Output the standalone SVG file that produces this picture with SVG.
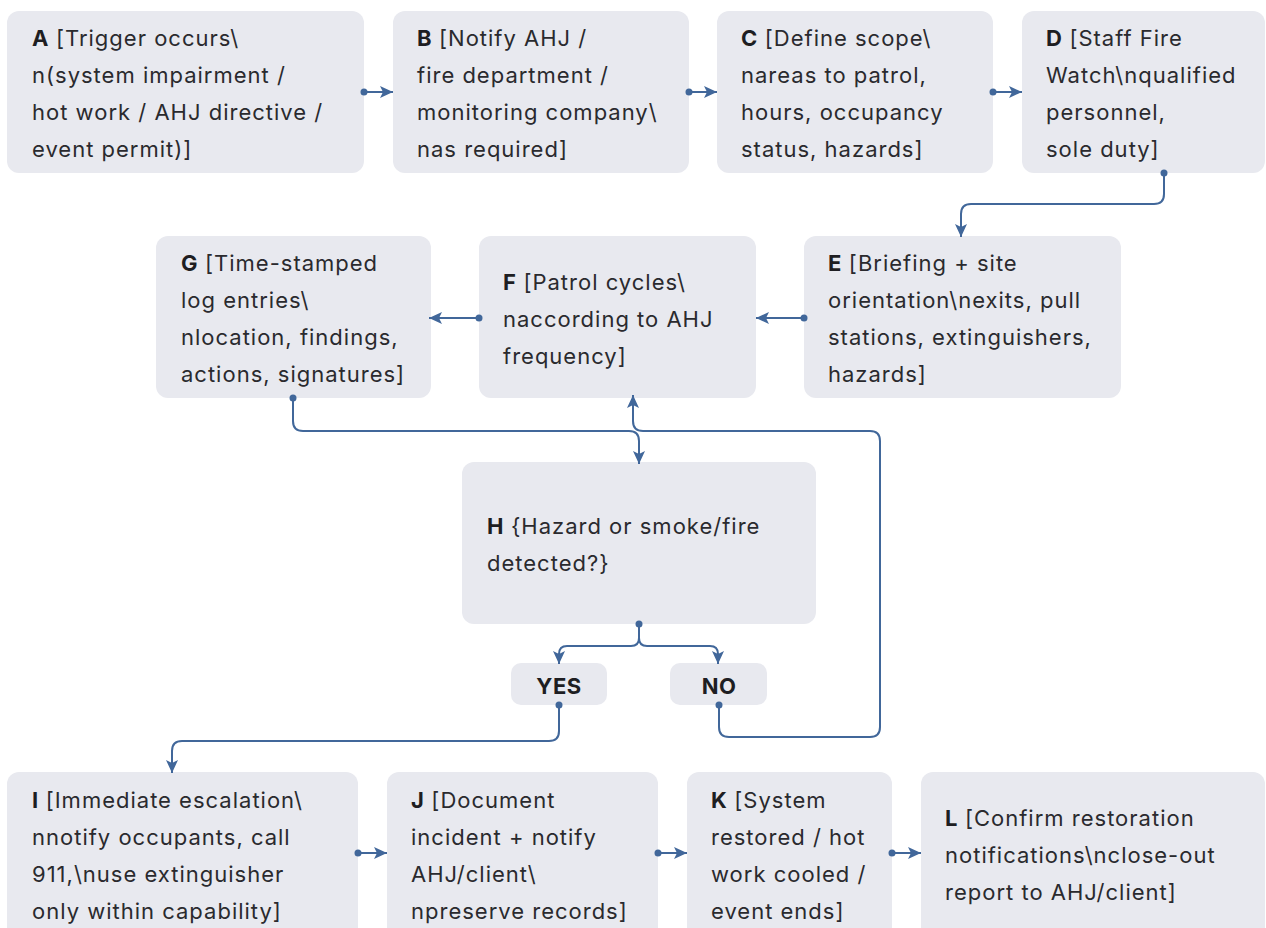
<svg xmlns="http://www.w3.org/2000/svg" width="1266" height="928" viewBox="0 0 1266 928">
<style>
.box{fill:#e8e9ef}
.t{font-family:Inter,Roboto,"Liberation Sans",sans-serif;font-size:22px;fill:#2a2a2e;letter-spacing:1px}
.b{font-weight:bold;fill:#1e1e22;letter-spacing:0.3px}
.lbl{font-family:Inter,Roboto,"Liberation Sans",sans-serif;font-size:22px;font-weight:bold;fill:#1e1e22;text-anchor:middle;letter-spacing:0.5px}
.c{fill:none;stroke:#41679a;stroke-width:2}
.dot{fill:#41679a}
</style>
<defs>
<marker id="ah" markerUnits="userSpaceOnUse" markerWidth="14" markerHeight="12" refX="13" refY="6" orient="auto">
<path d="M0,0 L13,6 L0,12 L3,6 Z" fill="#41679a"/>
</marker>
</defs>
<rect width="1266" height="928" fill="#ffffff"/>
<g id="nodes">
<g id="A"><rect class="box" x="7" y="11" width="357" height="162" rx="12"/>
<text class="t" x="32" y="46"><tspan class="b">A</tspan> [Trigger occurs\</text>
<text class="t" x="32" y="83">n(system impairment /</text>
<text class="t" x="32" y="120">hot work / AHJ directive /</text>
<text class="t" x="32" y="157">event permit)]</text></g>
<g id="B"><rect class="box" x="393" y="11" width="296" height="162" rx="12"/>
<text class="t" x="417" y="46"><tspan class="b">B</tspan> [Notify AHJ /</text>
<text class="t" x="417" y="83">fire department /</text>
<text class="t" x="417" y="120">monitoring company\</text>
<text class="t" x="417" y="157">nas required]</text></g>
<g id="C"><rect class="box" x="717" y="11" width="276" height="162" rx="12"/>
<text class="t" x="741" y="46"><tspan class="b">C</tspan> [Define scope\</text>
<text class="t" x="741" y="83">nareas to patrol,</text>
<text class="t" x="741" y="120">hours, occupancy</text>
<text class="t" x="741" y="157">status, hazards]</text></g>
<g id="D"><rect class="box" x="1022" y="11" width="243" height="162" rx="12"/>
<text class="t" x="1046" y="46"><tspan class="b">D</tspan> [Staff Fire</text>
<text class="t" x="1046" y="83">Watch\nqualified</text>
<text class="t" x="1046" y="120">personnel,</text>
<text class="t" x="1046" y="157">sole duty]</text></g>
<g id="E"><rect class="box" x="804" y="236" width="317" height="162" rx="12"/>
<text class="t" x="828" y="271"><tspan class="b">E</tspan> [Briefing + site</text>
<text class="t" x="828" y="308">orientation\nexits, pull</text>
<text class="t" x="828" y="345">stations, extinguishers,</text>
<text class="t" x="828" y="382">hazards]</text></g>
<g id="F"><rect class="box" x="479" y="236" width="277" height="162" rx="12"/>
<text class="t" x="503" y="290"><tspan class="b">F</tspan> [Patrol cycles\</text>
<text class="t" x="503" y="327">naccording to AHJ</text>
<text class="t" x="503" y="364">frequency]</text></g>
<g id="G"><rect class="box" x="156" y="236" width="275" height="162" rx="12"/>
<text class="t" x="181" y="271"><tspan class="b">G</tspan> [Time-stamped</text>
<text class="t" x="181" y="308">log entries\</text>
<text class="t" x="181" y="345">nlocation, findings,</text>
<text class="t" x="181" y="382">actions, signatures]</text></g>
<g id="H"><rect class="box" x="462" y="462" width="354" height="162" rx="12"/>
<text class="t" x="487" y="534"><tspan class="b">H</tspan> {Hazard or smoke/fire</text>
<text class="t" x="487" y="571">detected?}</text></g>
<g id="YES"><rect class="box" x="511" y="663" width="96" height="42" rx="10"/>
<text class="lbl" x="559" y="694">YES</text></g>
<g id="NO"><rect class="box" x="670" y="663" width="97" height="42" rx="10"/>
<text class="lbl" x="719" y="694">NO</text></g>
<g id="I"><rect class="box" x="7" y="772" width="351" height="170" rx="12"/>
<text class="t" x="32" y="808"><tspan class="b">I</tspan> [Immediate escalation\</text>
<text class="t" x="32" y="845">nnotify occupants, call</text>
<text class="t" x="32" y="882">911,\nuse extinguisher</text>
<text class="t" x="32" y="919">only within capability]</text></g>
<g id="J"><rect class="box" x="387" y="772" width="271" height="170" rx="12"/>
<text class="t" x="411" y="808"><tspan class="b">J</tspan> [Document</text>
<text class="t" x="411" y="845">incident + notify</text>
<text class="t" x="411" y="882">AHJ/client\</text>
<text class="t" x="411" y="919">npreserve records]</text></g>
<g id="K"><rect class="box" x="687" y="772" width="205" height="170" rx="12"/>
<text class="t" x="711" y="808"><tspan class="b">K</tspan> [System</text>
<text class="t" x="711" y="845">restored / hot</text>
<text class="t" x="711" y="882">work cooled /</text>
<text class="t" x="711" y="919">event ends]</text></g>
<g id="L"><rect class="box" x="921" y="772" width="344" height="170" rx="12"/>
<text class="t" x="945" y="826"><tspan class="b">L</tspan> [Confirm restoration</text>
<text class="t" x="945" y="863">notifications\nclose-out</text>
<text class="t" x="945" y="900">report to AHJ/client]</text></g>
</g>
<g id="connectors">
<path class="c" marker-end="url(#ah)" d="M364,92 H393"/><circle class="dot" cx="364" cy="92" r="3.5"/>
<path class="c" marker-end="url(#ah)" d="M689,92 H717"/><circle class="dot" cx="689" cy="92" r="3.5"/>
<path class="c" marker-end="url(#ah)" d="M993,92 H1022"/><circle class="dot" cx="993" cy="92" r="3.5"/>
<path class="c" marker-end="url(#ah)" d="M1164,173 V194 Q1164,204 1154,204 H971 Q961,204 961,214 V237"/><circle class="dot" cx="1164" cy="173" r="3.5"/>
<path class="c" marker-end="url(#ah)" d="M804,318 H756"/><circle class="dot" cx="804" cy="318" r="3.5"/>
<path class="c" marker-end="url(#ah)" d="M479,318 H429"/><circle class="dot" cx="479" cy="318" r="3.5"/>
<path class="c" marker-end="url(#ah)" d="M293,398 V421 Q293,431 303,431 H629 Q639,431 639,441 V464"/><circle class="dot" cx="293" cy="398" r="3.5"/>
<path class="c" marker-end="url(#ah)" d="M719,705 V727 Q719,737 729,737 H870 Q880,737 880,727 V441 Q880,431 870,431 H643 Q633,431 633,421 V395"/><circle class="dot" cx="719" cy="705" r="3.5"/>
<path class="c" marker-end="url(#ah)" d="M639,624 V638 Q639,646 631,646 H567 Q559,646 559,654 V664"/>
<path class="c" marker-end="url(#ah)" d="M639,624 V638 Q639,646 647,646 H710 Q718,646 718,654 V664"/><circle class="dot" cx="639" cy="624" r="3.5"/>
<path class="c" marker-end="url(#ah)" d="M559,705 V731 Q559,741 549,741 H182 Q172,741 172,751 V773"/><circle class="dot" cx="559" cy="705" r="3.5"/>
<path class="c" marker-end="url(#ah)" d="M358,853 H387"/><circle class="dot" cx="358" cy="853" r="3.5"/>
<path class="c" marker-end="url(#ah)" d="M658,853 H687"/><circle class="dot" cx="658" cy="853" r="3.5"/>
<path class="c" marker-end="url(#ah)" d="M892,853 H921"/><circle class="dot" cx="892" cy="853" r="3.5"/>
</g>
</svg>
